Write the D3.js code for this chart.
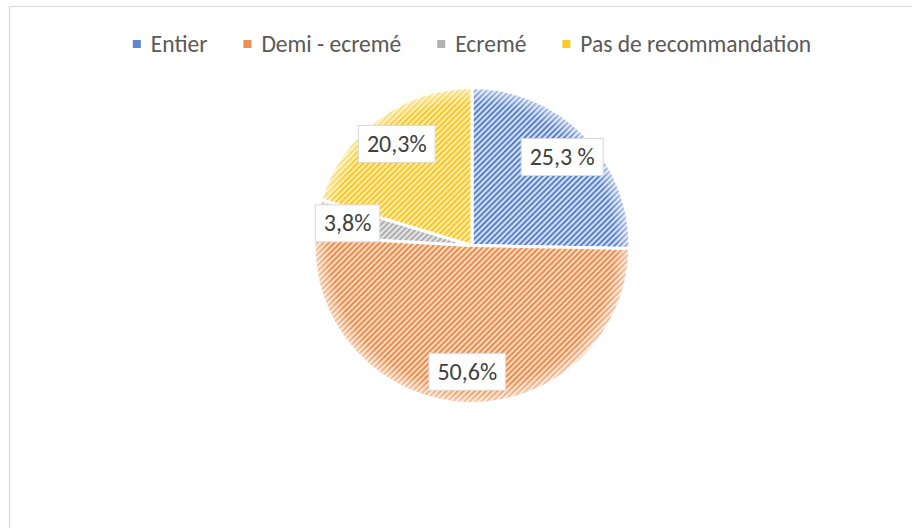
<!DOCTYPE html>
<html>
<head>
<meta charset="utf-8">
<script src="https://cdn.jsdelivr.net/npm/d3@7"></script>
<style>
  body { margin: 0; background: #fff; }
  svg { display: block; }
</style>
</head>
<body>
<div id="chart"></div>
<script>
(function() {
    var width = 912,
        height = 528;

    // chart data
    var categories = ["Entier", "Demi - ecremé", "Ecremé", "Pas de recommandation"];
    var values = [25.3, 50.6, 3.8, 20.3];
    var labels = ["25,3 %", "50,6%", "3,8%", "20,3%"];
    var colours = ["#4472C4", "#ED7D31", "#A5A5A5", "#FFC000"];
    var tints = ["#d5dff3", "#fbdcc7", "#e4e4e4", "#ffedb8"];

    var cx = 472, cy = 245.5, radius = 158;
    var fontFamily = "Calibri, Carlito, 'Open Sans', sans-serif";

    var svg = d3.select("#chart")
        .append("svg")
        .attr("width", width)
        .attr("height", height);

    var defs = svg.append("defs");

    // hatched fills, one per series
    colours.forEach(function(c, i) {
        var p = defs.append("pattern")
            .attr("id", "hatch" + i)
            .attr("patternUnits", "userSpaceOnUse")
            .attr("width", 4)
            .attr("height", 4)
            .attr("patternTransform", "rotate(45)");
        p.append("rect").attr("width", 4).attr("height", 4).attr("fill", tints[i]);
        p.append("rect").attr("x", 0).attr("width", 1.7).attr("height", 4).attr("fill", c);
    });

    // soft edge on the pie
    var grad = defs.append("radialGradient").attr("id", "soft")
        .attr("cx", "50%").attr("cy", "50%").attr("r", "50%");
    grad.append("stop").attr("offset", "90%").attr("stop-color", "#fff").attr("stop-opacity", 0);
    grad.append("stop").attr("offset", "100%").attr("stop-color", "#fff").attr("stop-opacity", 0.55);

    // chart frame
    svg.append("path")
        .attr("d", "M9.5," + height + "V6.5H" + width)
        .attr("fill", "none")
        .attr("stroke", "#d9d9d9")
        .attr("stroke-width", 1.2);

    var pie = d3.pie().sort(null).value(function(d) { return d; });
    var arcs = pie(values);

    var arc = d3.arc().innerRadius(0).outerRadius(radius);
    var labelArc = d3.arc().innerRadius(radius * 0.8).outerRadius(radius * 0.8);

    var g = svg.append("g").attr("transform", "translate(" + cx + "," + cy + ")");

    g.selectAll(".slice")
        .data(arcs)
        .enter().append("path")
        .attr("class", "slice")
        .attr("d", arc)
        .attr("fill", function(d, i) { return "url(#hatch" + i + ")"; })
        .attr("stroke", "#fff")
        .attr("stroke-width", 3)
        .attr("stroke-linejoin", "round");

    g.append("circle")
        .attr("r", radius)
        .attr("fill", "url(#soft)");

    // data labels
    var lab = g.selectAll(".lab")
        .data(arcs)
        .enter().append("g")
        .attr("class", "lab")
        .attr("transform", function(d) {
            var c = labelArc.centroid(d);
            return "translate(" + c[0] + "," + c[1] + ")";
        });

    var rects = lab.append("rect")
        .attr("fill", "#fff")
        .attr("stroke", "#d9d9d9")
        .attr("stroke-width", 1);

    var texts = lab.append("text")
        .attr("text-anchor", "middle")
        .attr("dy", "0.33em")
        .style("font-family", fontFamily)
        .style("font-size", "24px")
        .style("fill", "#404040")
        .text(function(d, i) { return labels[i]; });

    texts.each(function(d, i) {
        var w = this.getComputedTextLength();
        d3.select(rects.nodes()[i])
            .attr("x", -w / 2 - 8.5)
            .attr("y", -18.5)
            .attr("width", w + 17)
            .attr("height", 37);
    });

    // legend, centred over the pie
    var legend = svg.append("g").attr("class", "legend");
    var items = legend.selectAll(".item")
        .data(categories)
        .enter().append("g")
        .attr("class", "item");

    items.append("rect")
        .attr("y", -12)
        .attr("width", 8)
        .attr("height", 8)
        .attr("fill", function(d, i) { return colours[i]; })
        .attr("opacity", 0.85);

    items.append("text")
        .attr("x", 18)
        .style("font-family", fontFamily)
        .style("font-size", "23.5px")
        .style("fill", "#595959")
        .text(function(d) { return d; });

    var x = 0;
    items.each(function() {
        var t = d3.select(this).select("text").node().getComputedTextLength();
        d3.select(this).attr("transform", "translate(" + x + ",0)");
        x += 18 + t + 36;
    });
    var total = x - 36;
    legend.attr("transform", "translate(" + (cx - total / 2) + ",52)");
})();
</script>
</body>
</html>
